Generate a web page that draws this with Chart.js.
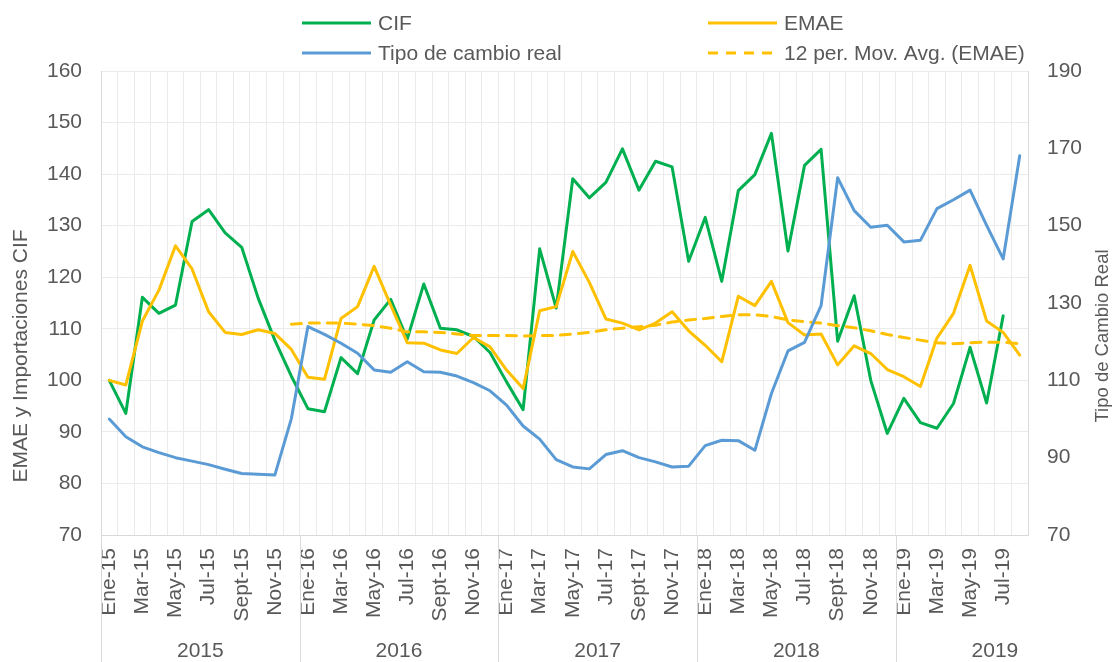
<!DOCTYPE html>
<html>
<head>
<meta charset="utf-8">
<title>EMAE, Importaciones CIF y Tipo de cambio real</title>
<script src="https://cdn.jsdelivr.net/npm/chart.js@4/dist/chart.umd.min.js"></script>
<style>
  html, body { margin: 0; padding: 0; background: #ffffff; }
  #wrap { position: relative; width: 1117px; height: 662px; }
</style>
</head>
<body>
<div id="wrap"><canvas id="chart" width="1117" height="662"></canvas></div>
<script>
// Monthly categories, Jan 2015 - Aug 2019
const categories = [
  'Ene-15','Feb-15','Mar-15','Abr-15','May-15','Jun-15','Jul-15','Ago-15','Sept-15','Oct-15','Nov-15','Dic-15',
  'Ene-16','Feb-16','Mar-16','Abr-16','May-16','Jun-16','Jul-16','Ago-16','Sept-16','Oct-16','Nov-16','Dic-16',
  'Ene-17','Feb-17','Mar-17','Abr-17','May-17','Jun-17','Jul-17','Ago-17','Sept-17','Oct-17','Nov-17','Dic-17',
  'Ene-18','Feb-18','Mar-18','Abr-18','May-18','Jun-18','Jul-18','Ago-18','Sept-18','Oct-18','Nov-18','Dic-18',
  'Ene-19','Feb-19','Mar-19','Abr-19','May-19','Jun-19','Jul-19','Ago-19'
];
const yearLabels = ['2015', '2016', '2017', '2018', '2019'];

// Importaciones CIF (index, left axis)
const cif = [
  100.0, 93.6, 116.1, 113.0, 114.6, 130.8, 133.1, 128.6, 125.8, 115.9, 107.8, 100.8,
  94.5, 93.9, 104.4, 101.3, 111.7, 115.7, 108.0, 118.7, 110.1, 109.8, 108.5, 105.4,
  99.7, 94.3, 125.5, 114.0, 139.1, 135.4, 138.4, 144.9, 136.9, 142.5, 141.4, 123.1,
  131.6, 119.2, 136.8, 139.9, 147.9, 125.1, 141.7, 144.8, 107.6, 116.4, 100.0, 89.7,
  96.5, 91.8, 90.7, 95.5, 106.4, 95.6, 112.5, null
];

// EMAE (index, left axis)
const emae = [
  100.0, 99.1, 111.5, 117.5, 126.1, 121.6, 113.3, 109.3, 108.9, 109.8, 109.1, 106.0,
  100.6, 100.2, 112.0, 114.3, 122.1, 114.6, 107.3, 107.2, 105.9, 105.2, 108.3, 106.5,
  102.0, 98.4, 113.5, 114.3, 125.0, 119.0, 111.9, 111.1, 109.8, 111.1, 113.3, 109.6,
  106.8, 103.6, 116.3, 114.5, 119.2, 111.2, 108.8, 109.0, 103.0, 106.7, 105.2, 102.1,
  100.7, 98.8, 108.2, 113.0, 122.3, 111.5, 109.3, 104.9
];

// 12-period moving average of EMAE (left axis)
const emaeAvg12 = [
  null, null, null, null, null, null, null, null, null, null, null, 110.9,
  111.1, 111.1, 111.1, 110.9, 110.6, 110.1, 109.4, 109.4, 109.3, 109.0, 108.7, 108.7,
  108.7, 108.6, 108.7, 108.7, 109.0, 109.3, 109.8, 110.1, 110.4, 110.7, 111.3, 111.7,
  112.0, 112.4, 112.7, 112.7, 112.4, 111.7, 111.4, 111.1, 110.6, 110.2, 109.6, 108.9,
  108.3, 107.8, 107.3, 107.1, 107.3, 107.4, 107.4, 107.1
];

// Tipo de cambio real (index, right axis)
const tcr = [
  100.0, 95.4, 92.8, 91.3, 90.0, 89.1, 88.2, 87.0, 85.9, 85.7, 85.5, 100.1,
  123.9, 121.9, 119.6, 117.0, 112.7, 112.1, 114.8, 112.2, 112.1, 111.1, 109.4, 107.3,
  103.6, 98.2, 94.8, 89.5, 87.6, 87.1, 90.8, 91.8, 90.0, 88.9, 87.6, 87.8,
  93.1, 94.5, 94.4, 91.9, 106.6, 117.6, 119.8, 129.3, 162.4, 153.9, 149.6, 150.1,
  145.8, 146.2, 154.4, 156.7, 159.2, 150.1, 141.4, 168.1
];

const TEXT = '#595959';
const GRID = '#ebebeb';
const AXIS = '#d9d9d9';
const FONT = '"Liberation Sans", Arial, Helvetica, sans-serif';

Chart.defaults.font.family = FONT;
Chart.defaults.font.size = 21;
Chart.defaults.color = TEXT;

// Two-column legend, axis titles and the year row under the month labels
const decorations = {
  id: 'decorations',
  afterDraw(chart) {
    const ctx = chart.ctx;
    const x = chart.scales.x;
    const area = chart.chartArea;
    const ds = chart.data.datasets;

    ctx.save();
    // legend
    const slots = [
      { i: 0, x: 302, y: 23 }, { i: 1, x: 708, y: 23 },
      { i: 3, x: 302, y: 53 }, { i: 2, x: 708, y: 53 }
    ];
    ctx.font = '21px ' + FONT;
    ctx.textBaseline = 'middle';
    ctx.textAlign = 'left';
    slots.forEach(s => {
      const d = ds[s.i];
      ctx.strokeStyle = d.borderColor;
      ctx.lineWidth = 3;
      ctx.setLineDash(d.borderDash || []);
      ctx.beginPath();
      ctx.moveTo(s.x, s.y);
      ctx.lineTo(s.x + 69, s.y);
      ctx.stroke();
      ctx.setLineDash([]);
      ctx.fillStyle = TEXT;
      ctx.fillText(d.label, s.x + 76, s.y + 1);
    });

    // axis titles
    ctx.textAlign = 'center';
    ctx.save();
    ctx.translate(21, 356);
    ctx.rotate(-Math.PI / 2);
    ctx.font = '21px ' + FONT;
    ctx.fillText('EMAE y Importaciones CIF', 0, 0);
    ctx.restore();
    ctx.save();
    ctx.translate(1103, 336);
    ctx.rotate(-Math.PI / 2);
    ctx.font = '18.5px ' + FONT;
    ctx.fillText('Tipo de Cambio Real', 0, 0);
    ctx.restore();

    // year groups: separators and labels
    ctx.strokeStyle = AXIS;
    ctx.lineWidth = 1;
    ctx.font = '21px ' + FONT;
    yearLabels.forEach(yr => {
      const first = categories.indexOf('Ene-' + yr.slice(2));
      const edge = Math.round(x.getPixelForValue(first - 0.5)) + 0.5;
      ctx.beginPath();
      ctx.moveTo(edge, area.bottom);
      ctx.lineTo(edge, chart.height);
      ctx.stroke();
      ctx.fillStyle = TEXT;
      ctx.fillText(yr, x.getPixelForValue(first + 5.5), 651);
    });
    ctx.restore();
  }
};

new Chart(document.getElementById('chart'), {
  type: 'line',
  data: {
    labels: categories,
    datasets: [
      { label: 'CIF', data: cif, yAxisID: 'y', borderColor: '#00b050', order: 3 },
      { label: 'EMAE', data: emae, yAxisID: 'y', borderColor: '#ffc000', order: 2 },
      { label: '12 per. Mov. Avg. (EMAE)', data: emaeAvg12, yAxisID: 'y', borderColor: '#ffc000',
        borderDash: [10, 8], order: 1 },
      { label: 'Tipo de cambio real', data: tcr, yAxisID: 'y1', borderColor: '#5b9bd5', order: 0 }
    ]
  },
  options: {
    responsive: false,
    animation: false,
    spanGaps: false,
    elements: {
      point: { radius: 0, hoverRadius: 0 },
      line: { borderWidth: 3, tension: 0, fill: false, borderCapStyle: 'round', borderJoinStyle: 'round' }
    },
    layout: { padding: { top: 71, left: 0, right: 0, bottom: 0 } },
    plugins: { legend: { display: false }, tooltip: { enabled: false } },
    scales: {
      x: {
        type: 'category',
        offset: true,
        grid: { offset: true, color: GRID, drawTicks: false },
        border: { color: AXIS },
        ticks: {
          autoSkip: false,
          minRotation: 90,
          maxRotation: 90,
          padding: 13,
          font: { size: 21 },
          color: TEXT,
          callback: (v, i) => (i % 2 === 0 ? categories[i] : '')
        },
        afterFit: s => { s.height = 127; }
      },
      y: {
        position: 'left',
        min: 70,
        max: 160,
        grid: { color: GRID, drawTicks: false },
        border: { color: AXIS },
        ticks: { stepSize: 10, padding: 19, color: TEXT, font: { size: 21 } },
        afterFit: s => { s.width = 101; }
      },
      y1: {
        position: 'right',
        min: 70,
        max: 190,
        grid: { drawOnChartArea: false, drawTicks: false },
        border: { color: AXIS },
        ticks: { stepSize: 20, padding: 19, color: TEXT, font: { size: 21 } },
        afterFit: s => { s.width = 89; }
      }
    }
  },
  plugins: [decorations]
});
</script>
</body>
</html>
